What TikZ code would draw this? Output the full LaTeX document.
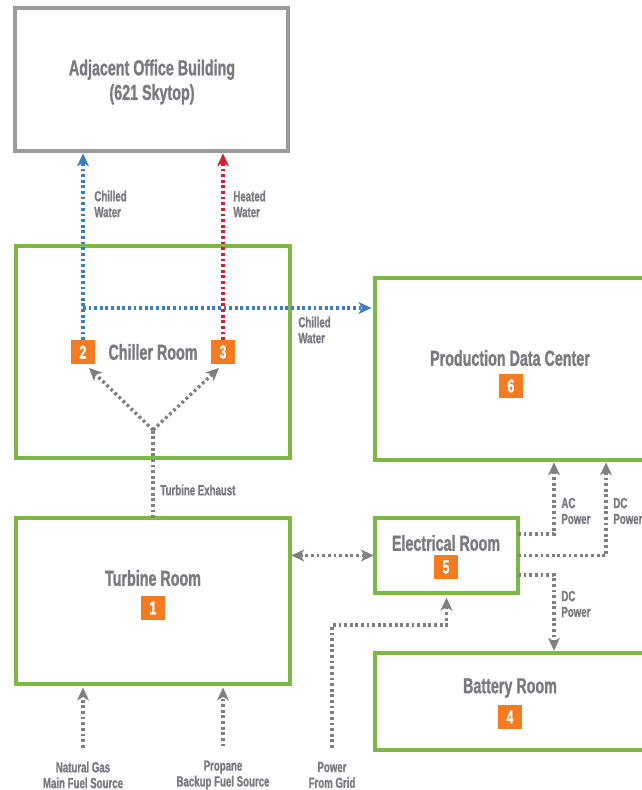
\documentclass[tikz,border=0pt]{standalone}
\usepackage{fontspec}
\setmainfont{Liberation Sans}[FakeStretch=0.66, BoldFont={Liberation Sans Bold},
  BoldFeatures={FakeStretch=0.66, FakeBold=1.2}]
\usetikzlibrary{arrows.meta, calc}
\definecolor{roomgreen}{HTML}{7CB944}
\definecolor{boxgray}{HTML}{9B9B9C}
\definecolor{chillblue}{HTML}{3C7DC4}
\definecolor{heatred}{HTML}{D2202F}
\definecolor{flowgray}{HTML}{808080}
\definecolor{badgeorange}{HTML}{F47B20}
\definecolor{txtgray}{HTML}{7A7A80}

\tikzset{
  room/.style={draw=roomgreen, line width=3.4pt, inner sep=0pt, outer sep=0pt},
  officebox/.style={draw=boxgray, line width=3.4pt, inner sep=0pt, outer sep=0pt},
  roomtext/.style={text=txtgray, font=\bfseries\fontsize{18.5}{21}\selectfont, align=center},
  badge/.style={fill=badgeorange, text=white, font=\bfseries\fontsize{16}{16}\selectfont,
    minimum size=20pt, inner sep=0pt},
  flowlabel/.style={text=txtgray, font=\bfseries\fontsize{12.5}{13.5}\selectfont, align=left,
    anchor=west, inner sep=1pt},
  srclabel/.style={text=txtgray, font=\bfseries\fontsize{12.5}{13.5}\selectfont, align=center},
  flow/.style={line width=2.9pt, dash pattern=on 2.4pt off 2.4pt, ->},
}

\begin{document}
\begin{tikzpicture}[x=0.03cm, y=-0.03cm, >={Stealth[length=11pt, width=10pt, inset=3pt]}]

% Page frame (pixel grid, y downwards)
\useasboundingbox (0,0) rectangle (641,790);

% Rooms
\node[officebox, minimum width=8.19cm, minimum height=4.29cm] (office) at (151.5,79.5) {};
\node[room, minimum width=8.22cm, minimum height=6.36cm] (chiller) at (153,352) {};
\node[room, minimum width=8.25cm, minimum height=5.46cm] (datacenter) at (512.5,369) {};
\node[room, minimum width=8.22cm, minimum height=4.98cm] (turbine) at (153,601) {};
\node[room, minimum width=4.29cm, minimum height=2.25cm] (elec) at (446.5,555.5) {};
\node[room, minimum width=8.25cm, minimum height=2.91cm] (battery) at (512.5,701.5) {};

% Room titles and numbers
\node[roomtext] (officetxt) at (152,82) {Adjacent Office Building\\(621 Skytop)};
\node[roomtext] (chillertxt) at (153,352) {Chiller Room};
\node[badge] (b2) at (83,352) {2};
\node[badge] (b3) at (223,352) {3};
\node[roomtext] (dctxt) at (510,358) {Production Data Center};
\node[badge] (b6) at (511,386) {6};
\node[roomtext] (turbinetxt) at (153,578) {Turbine Room};
\node[badge] (b1) at (153,608) {1};
\node[roomtext] (electxt) at (446,543) {Electrical Room};
\node[badge] (b5) at (446,567) {5};
\node[roomtext] (batterytxt) at (510,688) {Battery Room};
\node[badge] (b4) at (510,717) {4};

% Water loops
\coordinate (cwsplit) at (83,308);
\draw[flow, chillblue, shorten >=2pt] (b2.north) -- (b2.north |- office.south);
\draw[flow, chillblue, shorten >=3pt] (cwsplit) -- (cwsplit -| datacenter.west);
\draw[flow, heatred, shorten >=2pt] (b3.north) -- (b3.north |- office.south);
\node[flowlabel] (cwlabel) at (93,204) {Chilled\\Water};
\node[flowlabel] (hwlabel) at (232,204) {Heated\\Water};
\node[flowlabel] (cwdclabel) at (297,330) {Chilled\\Water};

% Turbine exhaust
\coordinate (exsplit) at (153,430);
\draw[flow, flowgray, -] (turbine.north) -- (exsplit);
\draw[flow, flowgray] (exsplit) -- ([shift={(6,4)}]b2.south);
\draw[flow, flowgray] (exsplit) -- ([shift={(-4,4)}]b3.south);
\node[flowlabel] (exlabel) at (159,490) {Turbine Exhaust};

% Power
\draw[flow, flowgray, <->, shorten <=1pt, shorten >=1pt] (elec.west -| turbine.east) -- (elec.west);
\draw[flow, flowgray, shorten >=2pt] ([shift={(0,-21.5)}]elec.east) -| ([shift={(41.5,0)}]datacenter.south);
\draw[flow, flowgray, shorten >=2pt] (elec.east) -| ([shift={(93.5,0)}]datacenter.south);
\draw[flow, flowgray, shorten >=2pt] ([shift={(0,19.5)}]elec.east) -| ([shift={(41.5,0)}]battery.north);
\node[flowlabel] (aclabel) at (560,511) {AC\\Power};
\node[flowlabel] (dclabel) at (612,511) {DC\\Power};
\node[flowlabel] (dcblabel) at (560,604) {DC\\Power};

% Sources
\node[srclabel] (gas) at (83,775) {Natural Gas\\Main Fuel Source};
\node[srclabel] (propane) at (223,775) {Propane\\Backup Fuel Source};
\node[srclabel] (grid) at (332,775) {Power\\From Grid};
\draw[flow, flowgray, shorten >=3pt] ([shift={(0,-10)}]gas.north) -- (gas.north |- turbine.south);
\draw[flow, flowgray, shorten >=3pt] ([shift={(0,-10)}]propane.north) -- (propane.north |- turbine.south);
\draw[flow, flowgray, shorten >=4pt] ([shift={(0,-10)}]grid.north) |- ([shift={(0,32)}]elec.south) -- (elec.south);

\end{tikzpicture}
\end{document}
